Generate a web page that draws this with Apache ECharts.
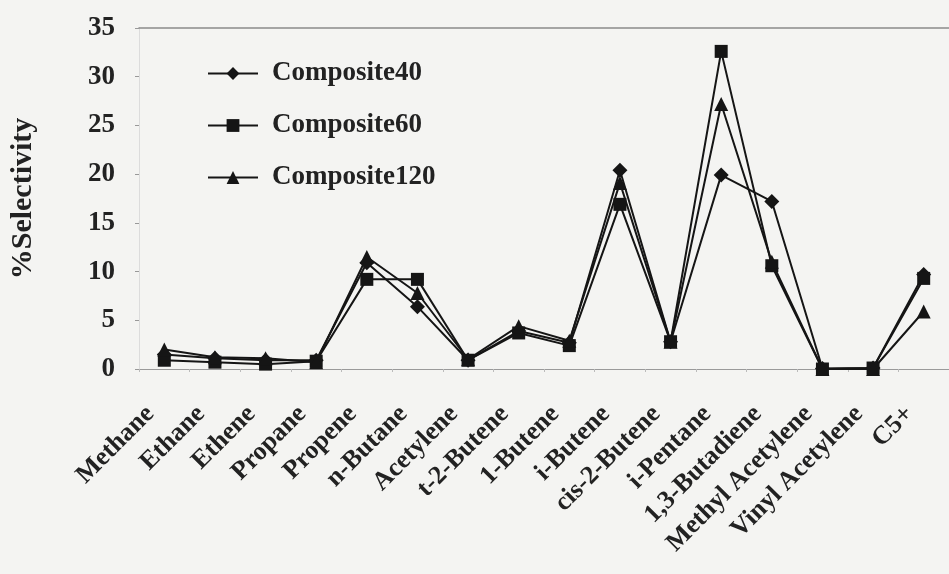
<!DOCTYPE html>
<html>
<head>
<meta charset="utf-8">
<script src="https://cdn.jsdelivr.net/npm/echarts@6/dist/echarts.min.js"></script>
<style>
html,body{margin:0;padding:0;background:#f4f4f2;}
#chart{width:949px;height:574px;}
</style>
</head>
<body>
<div id="chart"></div>
<script>
const categories = ["Methane","Ethane","Ethene","Propane","Propene","n-Butane","Acetylene","t-2-Butene","1-Butene","i-Butene","cis-2-Butene","i-Pentane","1,3-Butadiene","Methyl Acetylene","Vinyl Acetylene","C5+"];
const composite40  = [1.5, 1.1, 0.9, 0.9, 10.9, 6.4, 0.9, 3.9, 2.7, 20.4, 2.8, 19.9, 17.2, 0.05, 0.1, 9.7];
const composite60  = [0.9, 0.7, 0.5, 0.8, 9.2, 9.2, 0.9, 3.7, 2.4, 16.9, 2.8, 32.6, 10.6, 0.0, 0.1, 9.3];
const composite120 = [2.0, 1.2, 1.1, 0.7, 11.5, 7.8, 1.0, 4.4, 2.9, 19.1, 2.8, 27.2, 11.0, 0.0, 0.0, 5.9];
const seriesNames = ["Composite40","Composite60","Composite120"];
const yTicks = {min:0, max:35, interval:5};

const FONT = "'Liberation Serif','Times New Roman',serif";
const INK = '#151515';
const chart = echarts.init(document.getElementById('chart'));

function mkSeries(name, data, symbol, size){
  return {
    name, type:'line', data, symbol, symbolSize:size,
    lineStyle:{color:INK, width:2},
    itemStyle:{color:INK},
    emphasis:{disabled:true},
    animation:false
  };
}

chart.setOption({
  backgroundColor:'#f4f4f2',
  animation:false,
  grid:{left:134, right:-8, top:28, bottom:205, containLabel:false},
  legend:{
    orient:'vertical', left:202, top:55, itemWidth:50, itemHeight:16, itemGap:25,
    data:seriesNames,
    textStyle:{fontFamily:FONT, fontWeight:'bold', fontSize:27, color:'#222', padding:[0,0,0,9]}
  },
  xAxis:[{
    type:'category', data:categories, boundaryGap:true,
    axisLine:{lineStyle:{color:'#9a9a9a', width:1}},
    axisTick:{show:true, length:3, lineStyle:{color:'#bbb'}},
    axisLabel:{interval:0, rotate:45, margin:27, padding:[0,20,0,0], fontFamily:FONT, fontWeight:'bold', fontSize:26, color:'#222'}
  },{
    type:'category', data:categories, position:'top', boundaryGap:true,
    axisLine:{show:true, lineStyle:{color:'#8a8a8a', width:1.5}},
    axisTick:{show:false}, axisLabel:{show:false}
  }],
  yAxis:{
    type:'value', min:yTicks.min, max:yTicks.max, interval:yTicks.interval,
    name:'%Selectivity', nameLocation:'middle', nameGap:101, nameRotate:90,
    nameTextStyle:{fontFamily:FONT, fontWeight:'bold', fontSize:30, color:'#222'},
    axisLine:{show:true, lineStyle:{color:'#dcdcdc'}},
    axisTick:{show:true, length:4, lineStyle:{color:'#999'}},
    splitLine:{show:false},
    axisLabel:{margin:24, fontFamily:FONT, fontWeight:'bold', fontSize:27, color:'#222'}
  },
  series:[
    mkSeries(seriesNames[0], composite40, 'diamond', 15),
    mkSeries(seriesNames[1], composite60, 'rect', 13),
    mkSeries(seriesNames[2], composite120, 'triangle', 14)
  ]
});
</script>
</body>
</html>
